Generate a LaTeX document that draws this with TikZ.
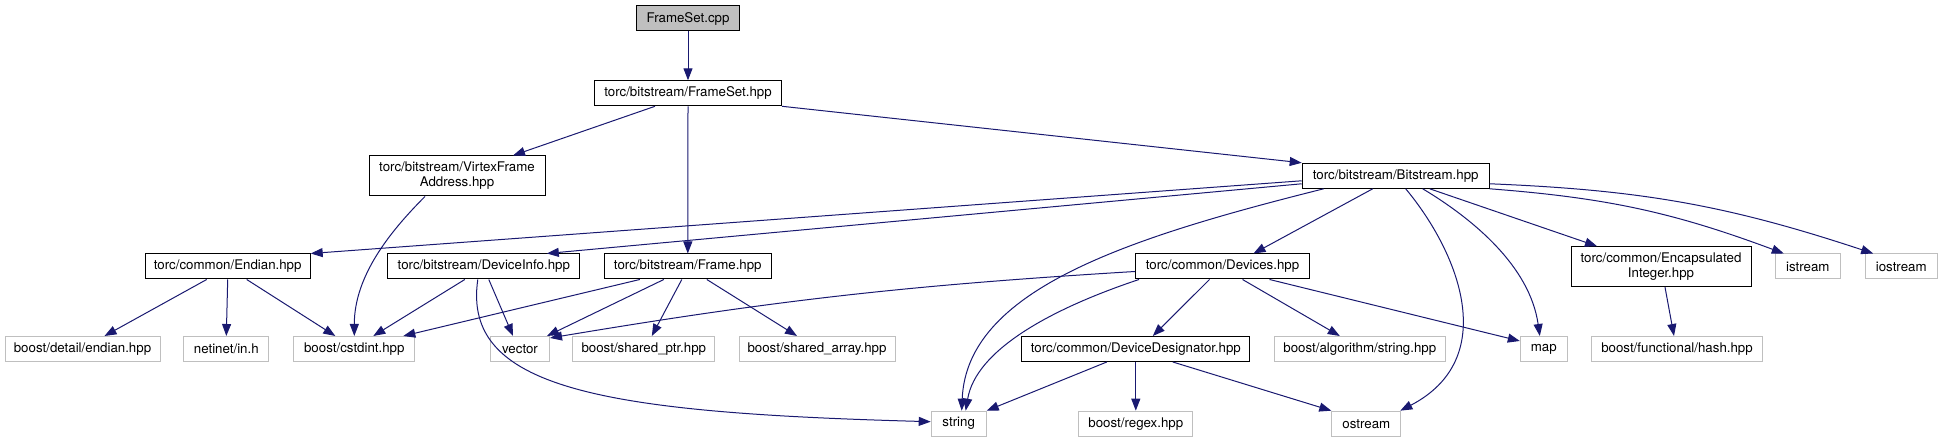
\documentclass[tikz,border=0pt]{standalone}
\usepackage{fontspec}
\setmainfont{TeX Gyre Heros}
\usetikzlibrary{arrows.meta}
\definecolor{edgeblue}{HTML}{191970}
\definecolor{sysgray}{HTML}{BFBFBF}
\newcommand{\lblfont}{\fontsize{13.3}{15}\selectfont}

\begin{document}
\begin{tikzpicture}[x=1pt, y=1pt,
  hdr/.style={draw=black, fill=white, line width=1pt, inner sep=0pt,
    minimum height=25pt, align=center, font=\lblfont},
  sys/.style={hdr, draw=sysgray},
  root/.style={hdr, fill=sysgray},
  dep/.style={draw=edgeblue, line width=1pt,
    -{Triangle[length=12pt, width=9pt]}, fill=none}]
  \useasboundingbox (0,0) rectangle (1943,443);

  % top of the graph
  \node[root, minimum width=103pt] (cpp) at (688,424.5) {FrameSet.cpp};
  \node[hdr, minimum width=187pt] (fshpp) at (688,349.7) {torc/bitstream/FrameSet.hpp};
  \node[hdr, minimum width=176pt, minimum height=40pt] (virtex) at (457,267) {torc/bitstream/VirtexFrame\\Address.hpp};
  \node[hdr, minimum width=187pt] (bits) at (1395.7,267.2) {torc/bitstream/Bitstream.hpp};

  % second row
  \node[hdr, minimum width=165pt] (endian) at (227.7,176.5) {torc/common/Endian.hpp};
  \node[hdr, minimum width=192pt] (devinfo) at (483.8,176.5) {torc/bitstream/DeviceInfo.hpp};
  \node[hdr, minimum width=167pt] (frame) at (687.8,176.5) {torc/bitstream/Frame.hpp};
  \node[hdr, minimum width=174pt] (devices) at (1222.5,176.5) {torc/common/Devices.hpp};
  \node[hdr, minimum width=180pt, minimum height=40pt] (encap) at (1661,176.3) {torc/common/Encapsulated\\Integer.hpp};
  \node[sys, minimum width=65pt] (istr) at (1807.8,176.5) {istream};
  \node[sys, minimum width=72pt] (iostr) at (1901.2,176.5) {iostream};

  % third row
  \node[sys, minimum width=155pt] (detail) at (82.5,94) {boost/detail/endian.hpp};
  \node[sys, minimum width=85pt] (netinet) at (226.3,94) {netinet/in.h};
  \node[sys, minimum width=121pt] (cstdint) at (354.3,94) {boost/cstdint.hpp};
  \node[sys, minimum width=59pt] (vector) at (520,94) {vector};
  \node[sys, minimum width=142pt] (shptr) at (643.8,94) {boost/shared\_ptr.hpp};
  \node[sys, minimum width=156pt] (sharr) at (817,94) {boost/shared\_array.hpp};
  \node[hdr, minimum width=228pt] (designator) at (1135.8,94) {torc/common/DeviceDesignator.hpp};
  \node[sys, minimum width=171pt] (algo) at (1359.8,94) {boost/algorithm/string.hpp};
  \node[sys, minimum width=47pt] (map) at (1543.8,94) {map};
  \node[sys, minimum width=171pt] (hash) at (1677,94) {boost/functional/hash.hpp};

  % bottom row
  \node[sys, minimum width=55pt] (string) at (958.7,19.3) {string};
  \node[sys, minimum width=114pt] (regex) at (1135.8,19.3) {boost/regex.hpp};
  \node[sys, minimum width=69pt] (ostr) at (1366.3,19.3) {ostream};

  % FrameSet includes
  \draw[dep] (cpp.south) -- (fshpp.north);
  \draw[dep] ([xshift=-33]fshpp.south) -- ([xshift=56]virtex.north);
  \draw[dep] (fshpp.south) -- (frame.north);
  \draw[dep] (fshpp.south east) -- (bits.north west);
  \draw[dep] ([xshift=-32]virtex.south) .. controls +(-35,-35) and +(0,60) .. (cstdint.north);

  % Bitstream includes
  \draw[dep] ([yshift=-5]bits.west) -- (endian.north east);
  \draw[dep] ([yshift=-8]bits.west) -- ([xshift=63]devinfo.north);
  \draw[dep] ([xshift=-72]bits.south) .. controls +(-200,-50) and +(5,120) .. ([xshift=3]string.north);
  \draw[dep] ([xshift=-23]bits.south) -- ([xshift=31]devices.north);
  \draw[dep] ([xshift=10]bits.south) .. controls +(54,-65) and +(100,52) .. ([xshift=-1]ostr.north east);
  \draw[dep] ([xshift=27]bits.south) .. controls +(50,-30) and +(-10,70) .. ([xshift=-4]map.north);
  \draw[dep] ([xshift=34]bits.south) -- ([xshift=-64]encap.north);
  \draw[dep] (bits.south east) to[bend left=8] ([xshift=-24]istr.north);
  \draw[dep] ([yshift=-8]bits.east) to[bend left=8] ([xshift=-28]iostr.north);

  % Endian, DeviceInfo and Frame includes
  \draw[dep] ([xshift=-21]endian.south) -- ([xshift=22]detail.north);
  \draw[dep] (endian.south) -- (netinet.north);
  \draw[dep] ([xshift=19]endian.south) -- ([xshift=-19]cstdint.north);
  \draw[dep] ([xshift=-19]devinfo.south) -- ([xshift=19]cstdint.north);
  \draw[dep] ([xshift=5]devinfo.south) -- ([xshift=-7]vector.north);
  \draw[dep] ([xshift=-6]devinfo.south) .. controls +(-16,-109) and +(-330,9) .. ([yshift=2]string.west);
  \draw[dep] ([xshift=-48]frame.south) -- ([xshift=49]cstdint.north);
  \draw[dep] ([xshift=-24]frame.south) -- ([xshift=-3]vector.north east);
  \draw[dep] ([xshift=-6]frame.south) -- ([xshift=8]shptr.north);
  \draw[dep] ([xshift=19]frame.south) -- ([xshift=-20]sharr.north);

  % Devices and DeviceDesignator includes
  \draw[dep] ([yshift=-5]devices.west) to[bend right=3] ([yshift=-2]vector.north east);
  \draw[dep] ([xshift=4]devices.south west) .. controls +(-90,-30) and +(10,60) .. ([xshift=7]string.north);
  \draw[dep] ([xshift=-13]devices.south) -- ([xshift=17]designator.north);
  \draw[dep] ([xshift=20]devices.south) -- ([xshift=-20]algo.north);
  \draw[dep] ([xshift=47]devices.south) -- ([yshift=-5]map.north west);
  \draw[dep] ([xshift=-29]designator.south) -- (string.north east);
  \draw[dep] (designator.south) -- (regex.north);
  \draw[dep] ([xshift=37]designator.south) -- (ostr.north west);
  \draw[dep] ([xshift=4]encap.south) -- ([xshift=-3]hash.north);
\end{tikzpicture}
\end{document}
